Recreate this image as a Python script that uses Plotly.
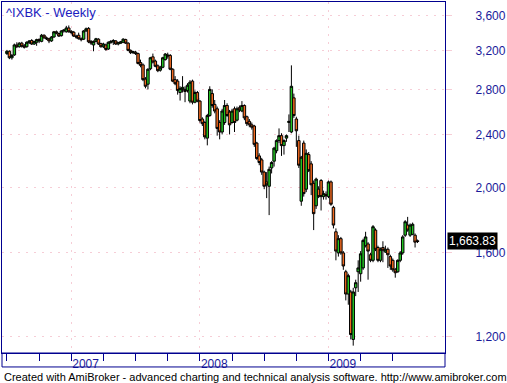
import pandas as pd
import numpy as np
import plotly.graph_objects as go

# ---------------- data ----------------
dates = pd.date_range("2006-07-07", periods=167, freq="7D")

opens = [3165,3190,3120,3150,3260,3240,3280,3250,3240,3285,3310,3270,3290,3320,3300,3370,3340,3330,3305,3350,
         3410,3390,3365,3420,3410,3455,3415,3405,3360,3370,3330,3325,3420,3450,3300,3260,3300,3325,3275,3240,
         3260,3215,3285,3295,3305,3270,3280,3290,3320,3280,3200,3175,3180,3165,3070,3045,2900,2850,3005,3130,
         3085,3035,2990,3020,3100,3150,3145,3000,2895,2880,2770,2800,2800,2790,2690,2880,2680,2770,2690,2530,
         2500,2370,2560,2760,2660,2620,2500,2420,2500,2650,2590,2500,2620,2520,2630,2600,2650,2550,2510,2480,
         2470,2330,2230,2200,2110,2040,2010,2140,2190,2270,2350,2390,2310,2370,2500,2420,2720,2530,2350,1910,
         2330,1990,2240,2170,2030,1880,1990,2050,1940,1955,1940,2040,1870,1720,1600,1680,1600,1500,1390,1400,
         1190,1420,1500,1490,1520,1640,1650,1590,1560,1730,1630,1560,1630,1605,1620,1580,1560,1510,1500,1560,
         1600,1700,1760,1700,1705,1700,1668]
highs = [3205,3200,3160,3275,3290,3290,3295,3270,3300,3315,3325,3305,3330,3335,3385,3380,3355,3340,3360,3420,
         3425,3400,3430,3440,3480,3485,3430,3420,3375,3400,3345,3430,3460,3465,3315,3310,3340,3335,3285,3285,
         3275,3300,3315,3325,3315,3295,3305,3335,3330,3290,3210,3195,3195,3175,3100,3060,2920,3010,3130,3165,
         3100,3050,3035,3130,3170,3175,3160,3010,2930,2900,2830,2930,2830,2860,2890,2895,2790,2785,2700,2545,
         2515,2575,2830,2800,2700,2640,2520,2620,2700,2670,2610,2620,2640,2640,2650,2690,2660,2560,2530,2500,
         2480,2340,2250,2215,2120,2110,2150,2190,2300,2360,2450,2410,2360,2400,2570,3040,2760,2550,2390,2230,
         2350,2280,2260,2190,2050,2070,2010,2060,1980,1975,2050,2050,1880,1740,1700,1690,1610,1510,1490,1410,
         1420,1460,1560,1610,1680,1720,1660,1600,1760,1740,1640,1630,1665,1640,1630,1590,1570,1520,1565,1610,
         1700,1790,1810,1770,1775,1710,1675]
lows = [3150,3105,3100,3140,3225,3230,3230,3220,3230,3270,3260,3260,3250,3280,3290,3330,3315,3280,3295,3340,
        3380,3350,3355,3400,3400,3400,3380,3350,3330,3320,3300,3315,3410,3280,3260,3190,3290,3260,3230,3225,
        3195,3205,3275,3260,3260,3255,3270,3280,3270,3190,3160,3160,3150,3050,3020,2880,2810,2800,2990,3060,
        3020,2970,2975,3010,3090,3110,2990,2870,2840,2750,2695,2770,2680,2770,2670,2660,2670,2680,2500,2470,
        2360,2312,2550,2630,2580,2390,2360,2400,2480,2550,2400,2490,2420,2510,2590,2590,2520,2470,2460,2440,
        2300,2200,2160,2090,1990,1930,1821,2100,2150,2250,2330,2230,2240,2340,2420,2410,2540,2300,2140,1880,
        1940,1970,2110,1950,1730,1860,1930,1850,1920,1920,1930,1880,1740,1560,1580,1590,1510,1360,1340,1190,
        1165,1380,1400,1450,1510,1630,1460,1550,1550,1610,1550,1550,1550,1600,1520,1510,1500,1470,1495,1550,
        1590,1690,1720,1690,1700,1630,1655]
closes = [3190,3120,3145,3260,3240,3280,3245,3235,3290,3305,3270,3300,3320,3305,3370,3340,3330,3305,3350,3410,
          3395,3360,3420,3430,3455,3410,3400,3360,3350,3330,3320,3420,3445,3295,3280,3300,3330,3270,3240,3270,
          3210,3290,3300,3310,3270,3285,3295,3325,3280,3200,3175,3185,3165,3060,3040,2895,2830,3000,3120,3075,
          3030,2985,3020,3120,3160,3140,3000,2880,2855,2790,2810,2820,2780,2840,2870,2680,2770,2690,2517,2490,
          2380,2560,2800,2650,2600,2450,2420,2600,2650,2560,2480,2600,2500,2620,2610,2650,2540,2490,2480,2460,
          2320,2210,2180,2110,2010,2020,2130,2180,2290,2350,2390,2310,2350,2390,2510,2830,2560,2430,2160,2220,
          1960,2250,2120,2020,1830,2060,1940,1940,1960,1945,2040,1890,1760,1610,1680,1600,1530,1390,1480,1210,
          1400,1445,1520,1595,1670,1690,1610,1560,1750,1620,1560,1620,1615,1620,1590,1530,1510,1495,1560,1600,
          1690,1780,1730,1760,1765,1660,1663.83]

y_tickvals = [1200, 1600, 2000, 2400, 2800, 3200, 3600]
y_ticktext = ["1,200", "1,600", "2,000", "2,400", "2,800", "3,200", "3,600"]
year_ticks = ["2007-01-05", "2008-01-04", "2009-01-02"]
year_labels = ["2007", "2008", "2009"]
quarter_ticks = ["2006-07-07", "2006-10-06", "2007-04-06", "2007-07-06", "2007-10-05",
                 "2008-04-04", "2008-07-04", "2008-10-03", "2009-04-03", "2009-07-03"]
title_text = "^IXBK - Weekly"
footer_text = "Created with AmiBroker - advanced charting and technical analysis software. http://www.amibroker.com"

# ---------------- styling ----------------
NAVY = "#00008f"
TXT = "#1a1a9a"
GRID = "#f6cdd6"
FONT = "Liberation Sans, Arial, sans-serif"

fig = go.Figure()
fig.add_trace(go.Candlestick(
    x=dates, open=opens, high=highs, low=lows, close=closes,
    increasing=dict(fillcolor="#22c322", line=dict(color="black", width=1)),
    decreasing=dict(fillcolor="#f26a20", line=dict(color="black", width=1)),
    whiskerwidth=0, showlegend=False, hoverinfo="skip",
))

x0 = dates[0] - pd.Timedelta(days=14)
x1 = dates[0] + pd.Timedelta(days=177.1 * 7)

fig.update_layout(
    width=507, height=383,
    margin=dict(l=1, r=61, t=1, b=30),
    paper_bgcolor="white", plot_bgcolor="white",
    boxgap=0.0, boxgroupgap=0.0,
    font=dict(family=FONT, size=12, color=TXT),
    xaxis=dict(
        type="date", range=[x0, x1], rangeslider=dict(visible=False),
        tickmode="array", tickvals=year_ticks, ticktext=year_labels,
        ticks="outside", ticklen=7, tickcolor=NAVY, tickwidth=1,
        ticklabelposition="outside right",
        tickfont=dict(family=FONT, size=12, color=TXT),
        showline=True, mirror=True, linecolor=NAVY, linewidth=1,
        showgrid=True, gridcolor=GRID, griddash="2px,6px", gridwidth=1,
        minor=dict(tickmode="array", tickvals=quarter_ticks, ticks="outside",
                   ticklen=7, tickcolor=NAVY, tickwidth=1, showgrid=False),
        zeroline=False, fixedrange=True,
    ),
    yaxis=dict(
        type="log", side="right",
        range=[np.log10(1136), np.log10(3776)],
        tickmode="array", tickvals=y_tickvals, ticktext=y_ticktext,
        ticks="outside", ticklen=6, tickcolor=GRID, tickwidth=1,
        ticklabelstandoff=21,
        tickfont=dict(family=FONT, size=12, color=TXT),
        showline=True, mirror=True, linecolor=NAVY, linewidth=1,
        showgrid=True, gridcolor=GRID, griddash="2px,6px", gridwidth=1,
        zeroline=False, fixedrange=True,
    ),
)

# bottom strip frame below the x-axis line
strip = 14 / 352
fig.add_shape(type="rect", xref="paper", yref="paper", x0=0, x1=1, y0=-strip, y1=0,
              line=dict(color=NAVY, width=1), fillcolor="rgba(0,0,0,0)", layer="above")

# title
fig.add_annotation(text=title_text, xref="paper", yref="paper", x=0, y=1,
                   xanchor="left", yanchor="top", xshift=2, yshift=-1, showarrow=False,
                   font=dict(family=FONT, size=13, color="#1c1cc0"))

# last price label
fig.add_annotation(text=f"{closes[-1]:,.2f}", xref="paper", yref="y", x=1,
                   y=np.log10(closes[-1]), xanchor="left", yanchor="middle", xshift=2,
                   showarrow=False, bgcolor="black", borderpad=1,
                   font=dict(family=FONT, size=12, color="white"))

# footer
fig.add_annotation(text=footer_text, xref="paper", yref="paper", x=0, y=-(24 / 352),
                   xanchor="left", yanchor="middle", xshift=0, showarrow=False,
                   font=dict(family=FONT, size=11, color="black"))

fig.write_html("out.html")
